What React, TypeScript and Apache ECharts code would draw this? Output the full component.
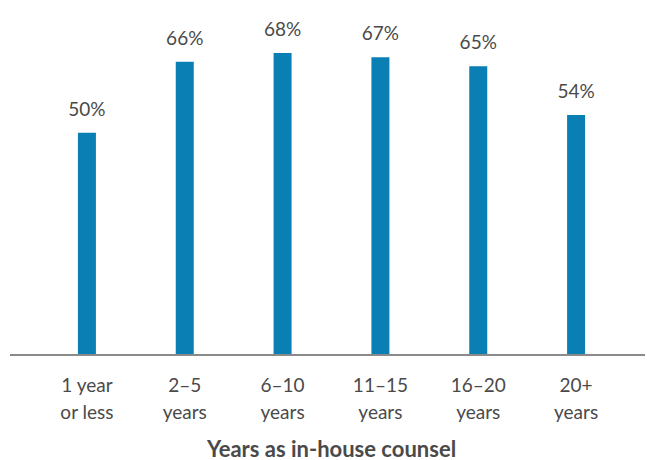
import React, { useEffect, useRef } from "react";
import * as echarts from "echarts";

const categories = ["1 year\nor less", "2–5\nyears", "6–10\nyears", "11–15\nyears", "16–20\nyears", "20+\nyears"];
const shares = [50, 66, 68, 67, 65, 54];
const axisTitle = "Years as in-house counsel";

const TEXT = "#4a4a4a";
const BAR = "#0a7fb4";
const FONT = "Lato, 'Open Sans', sans-serif";

export default function App() {
  const ref = useRef<HTMLDivElement>(null);

  useEffect(() => {
    if (!ref.current) return;
    const chart = echarts.init(ref.current, null, { renderer: "svg" });
    chart.setOption({
      animation: false,
      grid: { left: 38, right: 22, top: 44, bottom: 105, outerBoundsMode: "none", containLabel: false },
      xAxis: {
        type: "category",
        data: categories,
        axisLine: { show: false },
        axisTick: { show: false },
        axisLabel: {
          color: TEXT,
          fontSize: 19,
          fontFamily: FONT,
          lineHeight: 27,
          margin: 16,
        },
        name: axisTitle,
        nameLocation: "middle",
        nameGap: 82,
        nameTextStyle: { color: TEXT, fontSize: 22, fontWeight: "bold", fontFamily: FONT, lineHeight: 22 },
      },
      yAxis: {
        type: "value",
        min: 0,
        max: 70,
        show: false,
      },
      graphic: [
        {
          type: "line",
          shape: { x1: 10, y1: 355, x2: 645, y2: 355 },
          style: { stroke: "#8a8a8a", lineWidth: 2 },
          z: 10,
        },
      ],
      series: [
        {
          type: "bar",
          data: shares,
          barWidth: 18,
          itemStyle: { color: BAR },
          label: {
            show: true,
            position: "top",
            distance: 15,
            formatter: "{c}%",
            color: TEXT,
            fontSize: 19,
            fontFamily: FONT,
          },
        },
      ],
    });
    return () => chart.dispose();
  }, []);

  return (
    <div
      ref={ref}
      style={{ position: "fixed", left: 0, top: 0, width: 647, height: 460, background: "#fff" }}
    />
  );
}
